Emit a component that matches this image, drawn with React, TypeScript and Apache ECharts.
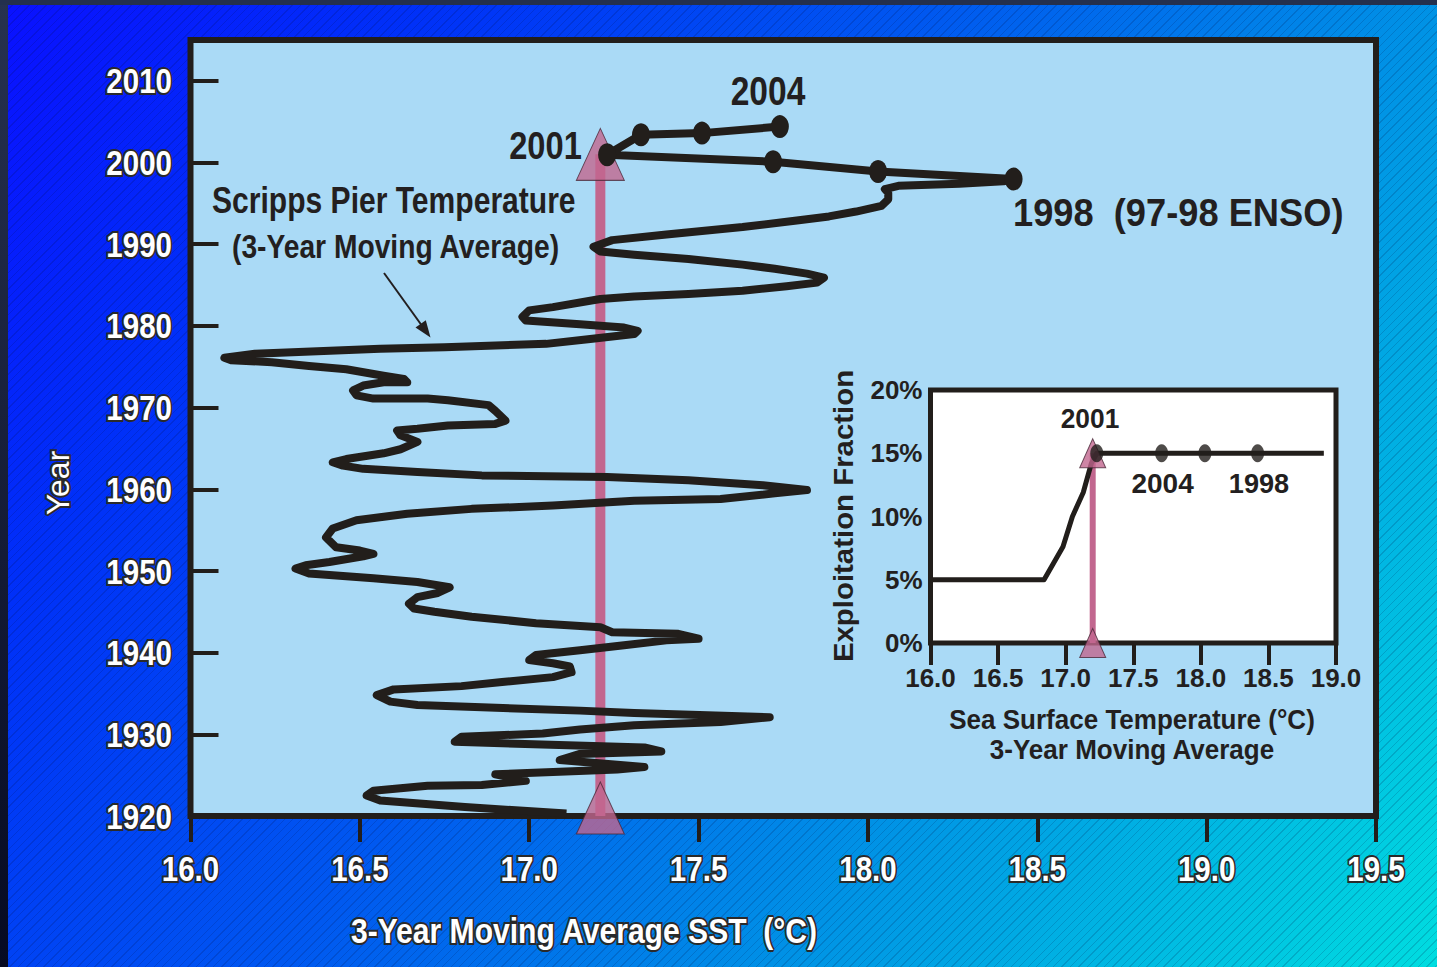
import React, { useEffect, useRef } from "react";
import * as echarts from "echarts";

// ---- Main chart: Scripps Pier 3-year moving-average SST path (temperature, year)
const pathTemp = [
  17.11, 16.81, 16.56, 16.52, 16.54, 16.70, 16.86, 16.99, 16.90, 17.26, 17.34, 17.09, 17.15, 17.39, 17.34, 16.92,
  16.78, 16.80, 17.04, 17.15, 17.31, 17.565, 17.71,
  17.55, 17.31, 17.15, 16.86, 16.67, 16.59, 16.55, 16.60, 16.80, 16.92, 17.07, 17.125, 17.12, 17.07, 17.00, 17.02,
  17.15, 17.28, 17.405, 17.50, 17.44, 17.245, 17.21, 17.02, 16.83, 16.72, 16.66, 16.645, 16.67, 16.73, 16.765,
  16.67, 16.54, 16.35, 16.31, 16.34, 16.41, 16.51, 16.54, 16.50, 16.43, 16.40, 16.42, 16.49, 16.64, 16.83, 17.07,
  17.31, 17.565, 17.725, 17.82, 17.69, 17.47, 17.23, 16.86, 16.67, 16.51, 16.45, 16.42, 16.46, 16.57, 16.62,
  16.67, 16.62, 16.61, 16.67, 16.76, 16.90, 16.93, 16.90, 16.88, 16.76, 16.70, 16.54, 16.49, 16.48, 16.51, 16.57,
  16.64, 16.63, 16.57, 16.46, 16.35, 16.24, 16.12, 16.10, 16.19, 16.43, 16.56, 16.75, 17.05, 17.18, 17.31, 17.32,
  17.28, 17.15, 16.99,
  16.98, 17.00, 17.07, 17.21, 17.31, 17.47, 17.63, 17.76, 17.85, 17.87, 17.82, 17.725, 17.63, 17.47, 17.31, 17.21,
  17.19, 17.245, 17.405, 17.63, 17.79, 17.885, 17.965, 18.04, 18.06, 18.06, 18.05, 18.09, 18.27, 18.40, 18.43,
];
const pathYear = [
  1920.3, 1921.1, 1921.9, 1922.5, 1923.1, 1923.7, 1923.8, 1924.3, 1925.1, 1925.7, 1926.0, 1926.85, 1927.6, 1927.9,
  1928.4, 1928.9, 1929.1, 1929.7, 1930.1, 1930.6, 1931.1, 1931.5, 1932.1,
  1932.3, 1932.6, 1932.9, 1933.3, 1933.6, 1934.0, 1934.8, 1935.5, 1935.9, 1936.4, 1937.0, 1937.6, 1938.3, 1938.7,
  1939.1, 1939.7, 1940.3, 1940.9, 1941.5, 1941.7, 1942.3, 1942.5, 1943.1, 1943.6, 1944.4, 1945.0, 1945.4, 1946.0,
  1946.8, 1947.3, 1948.0,
  1948.65, 1949.1, 1949.7, 1950.3, 1950.7, 1951.1, 1951.8, 1952.1, 1952.5, 1952.9, 1954.1, 1955.2, 1956.2, 1957.0,
  1957.6, 1958.0, 1958.6, 1958.8, 1959.5, 1959.9, 1960.5, 1961.1, 1961.5, 1961.7, 1962.1, 1962.5, 1962.9, 1963.3,
  1963.7, 1964.4, 1964.9,
  1965.8, 1966.6, 1967.2, 1967.4, 1967.8, 1968.0, 1968.4, 1969.6, 1970.3, 1970.9, 1971.1, 1971.1, 1971.5, 1972.1,
  1972.7, 1973.1, 1973.1, 1973.5, 1973.9, 1974.7, 1975.1, 1975.55, 1975.8, 1976.1, 1976.6, 1977.0, 1977.2, 1977.4,
  1977.8, 1978.4, 1979.0, 1979.4, 1979.8, 1980.2, 1980.65,
  1981.1, 1981.9, 1982.3, 1983.3, 1983.6, 1983.9, 1984.3, 1984.85, 1985.3, 1985.9, 1986.4, 1987.0, 1987.5, 1988.2,
  1988.7, 1989.1, 1989.7, 1990.5, 1991.2, 1992.1, 1992.9, 1993.4, 1994.0, 1994.7, 1995.5, 1996.3, 1996.75, 1997.15,
  1997.4, 1997.7, 1997.97,
];

// Highlighted recent years (dots)
const recentLabels = ["1998", "1999", "2000", "2001", "2002", "2003", "2004"];
const recentTemp = [18.43, 18.03, 17.72, 17.23, 17.33, 17.51, 17.74];
const recentYear = [1997.97, 1998.9, 2000.1, 2000.95, 2003.4, 2003.6, 2004.4];

// Threshold marker (main)
const thresholdTemp = 17.21;
const thresholdYears = [1920, 2001];

// Axis ticks (main)
const yearTicks = [1920, 1930, 1940, 1950, 1960, 1970, 1980, 1990, 2000, 2010];
const tempTicks = [16.0, 16.5, 17.0, 17.5, 18.0, 18.5, 19.0, 19.5];

// ---- Inset: exploitation fraction vs SST
const exploitTemp = [16.0, 16.84, 16.98, 17.05, 17.13, 17.19, 17.23, 18.91];
const exploitFrac = [5, 5, 7.6, 10, 11.9, 14.2, 15, 15];
const insetDotTemp = [17.23, 17.71, 18.03, 18.42];
const insetDotFrac = [15, 15, 15, 15];
const insetThresholdTemp = 17.2;
const insetThresholdFrac = [0, 15];

const PINK = "#c2678f";
const INK = "#221e1b";
const SANS = "'Liberation Sans', Arial, sans-serif";

function txt(
  text: string,
  x: number,
  y: number,
  size: number,
  scaleX: number,
  opts: { align?: string; white?: boolean; rotate?: boolean; weight?: string } = {}
) {
  const white = !!opts.white;
  return {
    type: "text",
    x,
    y,
    scaleX,
    rotation: opts.rotate ? Math.PI / 2 : 0,
    z: 100,
    style: {
      text,
      font: `${opts.weight || "bold"} ${size}px ${SANS}`,
      fill: white ? "#ffffff" : "#231f20",
      stroke: white ? "#2a2a2a" : undefined,
      lineWidth: white ? 4 : 0,
      strokeFirst: true,
      align: opts.align || "center",
      verticalAlign: "middle",
      textAlign: opts.align || "center",
      textVerticalAlign: "middle",
    },
  };
}

export default function App() {
  const ref = useRef<HTMLDivElement>(null);

  useEffect(() => {
    document.body.style.margin = "0";
    if (!ref.current) return;
    const chart = echarts.init(ref.current, undefined, { renderer: "svg" });

    const darkLabel = {
      color: "#231f20",
      fontSize: 26,
      fontWeight: "bold",
      fontFamily: SANS,
    };

    const baseGraphics: any[] = [
      {
        type: "rect",
        shape: { x: 0, y: 0, width: 8, height: 967 },
        style: {
          fill: {
            type: "linear",
            x: 0,
            y: 0,
            x2: 0,
            y2: 1,
            colorStops: [
              { offset: 0, color: "#27324f" },
              { offset: 1, color: "#060a22" },
            ],
          },
        },
        z: 100,
      },
      { type: "rect", shape: { x: 0, y: 0, width: 1437, height: 5 }, style: { fill: "#24304d" }, z: 100 },
      {
        type: "line",
        shape: { x1: 384, y1: 273, x2: 425, y2: 330 },
        style: { stroke: "#231f20", lineWidth: 2 },
        z: 100,
      },
      {
        type: "polygon",
        shape: { points: [[430.5, 337.5], [415.5, 327.5], [425.8, 320.3]] },
        style: { fill: "#231f20" },
        z: 100,
      },
      txt("2004", 768, 91, 40, 0.84),
      txt("2001", 545.5, 146, 38, 0.86),
      txt("1998  (97-98 ENSO)", 1013, 213, 39, 0.93, { align: "left" }),
      txt("Scripps Pier Temperature", 212, 201, 36, 0.835, { align: "left" }),
      txt("(3-Year Moving Average)", 232, 247, 34, 0.83, { align: "left" }),
      txt("3-Year Moving Average SST  (°C)", 584, 931, 35, 0.86, { white: true }),
      txt("Year", 58, 483, 32, 1, { white: true, rotate: true, weight: "normal" }),
      txt("2001", 1090, 418, 28, 0.94),
      txt("2004", 1162.6, 483, 28, 1.0),
      txt("1998", 1259, 483, 28, 0.97),
      txt("Exploitation Fraction", 843, 516, 28, 1.05, { rotate: true }),
      txt("Sea Surface Temperature (°C)", 1132, 720, 28, 0.93),
      txt("3-Year Moving Average", 1132, 750, 28, 0.93),
    ];

    const option: any = {
      animation: false,
      backgroundColor: "transparent",
      grid: [
        {
          left: 190.5,
          top: 40,
          width: 1185.5,
          height: 776,
          show: true,
          backgroundColor: "#aadaf6",
          borderColor: INK,
          borderWidth: 6,
          z: 0,
        },
        {
          left: 930.5,
          top: 390,
          width: 405.5,
          height: 253,
          show: true,
          backgroundColor: "#ffffff",
          borderColor: INK,
          borderWidth: 5,
          z: 1,
        },
      ],
      xAxis: [
        {
          type: "value",
          gridIndex: 0,
          min: 16,
          max: 19.5,
          interval: 0.5,
          axisLine: { show: false },
          splitLine: { show: false },
          axisTick: { show: true, inside: false, length: 26, lineStyle: { color: INK, width: 4 } },
          axisLabel: { show: false },
        },
        {
          type: "value",
          gridIndex: 1,
          min: 16,
          max: 19,
          interval: 0.5,
          axisLine: { show: false },
          splitLine: { show: false },
          axisTick: { show: true, inside: false, length: 22, lineStyle: { color: INK, width: 4 } },
          axisLabel: { ...darkLabel, margin: 22, formatter: (v: number) => v.toFixed(1) },
        },
      ],
      yAxis: [
        {
          type: "value",
          gridIndex: 0,
          min: 1920,
          max: 2015,
          interval: 10,
          axisLine: { show: false },
          splitLine: { show: false },
          axisTick: {
            show: true,
            inside: true,
            length: 28,
            customValues: yearTicks,
            lineStyle: { color: INK, width: 4 },
          },
          axisLabel: { show: false },
        },
        {
          type: "value",
          gridIndex: 1,
          min: 0,
          max: 20,
          interval: 5,
          axisLine: { show: false },
          splitLine: { show: false },
          axisTick: { show: true, inside: true, length: 25, lineStyle: { color: INK, width: 4 } },
          axisLabel: { ...darkLabel, margin: 8, formatter: "{value}%" },
        },
      ],
      series: [
        {
          type: "line",
          xAxisIndex: 0,
          yAxisIndex: 0,
          data: thresholdYears.map((y) => [thresholdTemp, y]),
          symbol: "none",
          lineStyle: { color: PINK, width: 10 },
          z: 2,
          silent: true,
        },
        {
          type: "line",
          xAxisIndex: 0,
          yAxisIndex: 0,
          data: pathTemp.map((t, i) => [t, pathYear[i]]),
          symbol: "none",
          lineStyle: { color: INK, width: 8, join: "round" },
          z: 3,
          silent: true,
        },
        {
          type: "scatter",
          xAxisIndex: 0,
          yAxisIndex: 0,
          data: [
            { value: [thresholdTemp, thresholdYears[1]] },
            { value: [thresholdTemp, thresholdYears[0]], symbolOffset: [0, -8] },
          ],
          symbol: "triangle",
          symbolSize: [48, 52],
          itemStyle: { color: PINK, borderColor: "#4a2838", borderWidth: 1 },
          z: 4,
          silent: true,
        },
        {
          type: "line",
          name: "recent",
          xAxisIndex: 0,
          yAxisIndex: 0,
          data: recentTemp.map((t, i) => ({ value: [t, recentYear[i]], name: recentLabels[i] })),
          symbol: "circle",
          symbolSize: [18, 23],
          itemStyle: { color: INK },
          lineStyle: { color: INK, width: 8 },
          z: 5,
          silent: true,
        },
        {
          type: "line",
          xAxisIndex: 1,
          yAxisIndex: 1,
          data: insetThresholdFrac.map((f) => [insetThresholdTemp, f]),
          symbol: "none",
          lineStyle: { color: PINK, width: 6 },
          z: 6,
          silent: true,
        },
        {
          type: "line",
          xAxisIndex: 1,
          yAxisIndex: 1,
          data: exploitTemp.map((t, i) => [t, exploitFrac[i]]),
          symbol: "none",
          lineStyle: { color: INK, width: 5, join: "round" },
          z: 7,
          silent: true,
        },
        {
          type: "scatter",
          xAxisIndex: 1,
          yAxisIndex: 1,
          data: insetThresholdFrac
            .slice()
            .reverse()
            .map((f) => [insetThresholdTemp, f]),
          symbol: "triangle",
          symbolSize: [26, 29],
          itemStyle: { color: PINK, borderColor: "#4a2838", borderWidth: 1 },
          z: 8,
          silent: true,
        },
        {
          type: "scatter",
          xAxisIndex: 1,
          yAxisIndex: 1,
          data: insetDotTemp.map((t, i) => [t, insetDotFrac[i]]),
          symbol: "circle",
          symbolSize: [13, 18],
          itemStyle: { color: INK },
          z: 9,
          silent: true,
        },
      ],
      graphic: baseGraphics,
    };

    chart.setOption(option);

    // Main axis tick labels: condensed bold white outlined text placed through the axes' own scales
    const yLabels = yearTicks.map((v) => {
      const py = chart.convertToPixel({ yAxisIndex: 0 } as any, v) as number;
      return txt(String(v), 172, py, 36, 0.82, { align: "right", white: true });
    });
    const xLabels = tempTicks.map((v) => {
      const px = chart.convertToPixel({ xAxisIndex: 0 } as any, v) as number;
      return txt(v.toFixed(1), px, 868, 36, 0.82, { white: true });
    });
    chart.setOption({ graphic: [...baseGraphics, ...yLabels, ...xLabels] });

    return () => chart.dispose();
  }, []);

  return (
    <div
      style={{
        width: 1437,
        height: 967,
        background:
          "repeating-linear-gradient(135deg, rgba(0,10,60,0.16) 0px, rgba(0,10,60,0.16) 1px, rgba(0,0,0,0) 1px, rgba(0,0,0,0) 6px), linear-gradient(124deg, #0a10ff 0%, #0030f8 20%, #0058f0 45%, #0095e5 70%, #00dde0 100%)",
      }}
    >
      <div ref={ref} style={{ width: 1437, height: 967 }} />
    </div>
  );
}
